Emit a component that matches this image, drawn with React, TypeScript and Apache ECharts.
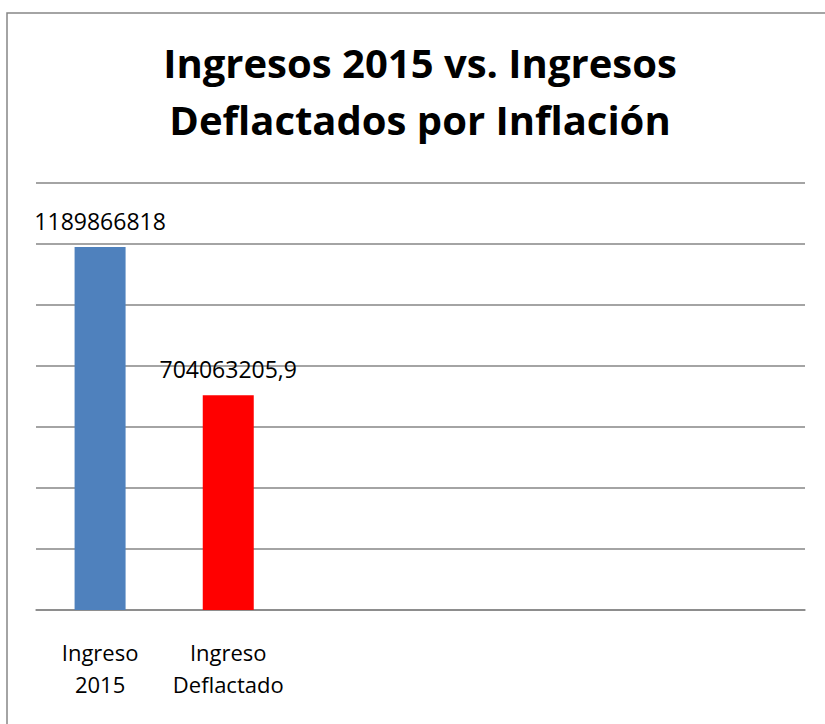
import React, { useEffect, useRef } from "react";
import * as echarts from "echarts";

const titleText = "Ingresos 2015 vs. Ingresos\nDeflactados por Inflación";
const categories = ["Ingreso\n2015", "Ingreso\nDeflactado", "", "", "", ""];
const values = [1189866818, 704063205.9];
const barColors = ["#4F81BD", "#FF0000"];
const yMin = 0;
const yMax = 1400000000;
const yInterval = 200000000;

export default function App() {
  const ref = useRef<HTMLDivElement>(null);
  useEffect(() => {
    if (!ref.current) return;
    const chart = echarts.init(ref.current, undefined, { renderer: "svg" });
    chart.setOption({
      animation: false,
      backgroundColor: "#ffffff",
      graphic: [
        {
          type: "rect",
          shape: { x: 7, y: 13, width: 900, height: 800 },
          style: { fill: "none", stroke: "#868686", lineWidth: 1.5 },
          silent: true,
        },
        {
          type: "text",
          x: 420,
          y: 91,
          style: {
            text: titleText,
            textAlign: "center",
            textVerticalAlign: "middle",
            fontFamily: "Open Sans",
            fontWeight: "bold",
            fontSize: 40,
            lineHeight: 57,
            fill: "#000000",
          },
        },
      ],
      grid: { left: 36, right: 20, top: 183, bottom: 114, containLabel: false },
      xAxis: {
        type: "category",
        data: categories,
        axisLine: { show: true, lineStyle: { color: "#868686", width: 1.5 } },
        axisTick: { show: false },
        axisLabel: {
          interval: 0,
          color: "#000000",
          fontFamily: "Open Sans",
          fontSize: 22,
          lineHeight: 32,
          margin: 26,
        },
      },
      yAxis: {
        type: "value",
        min: yMin,
        max: yMax,
        interval: yInterval,
        axisLine: { show: false },
        axisTick: { show: false },
        axisLabel: { show: false },
        splitLine: { show: true, lineStyle: { color: "#868686", width: 1.5 } },
      },
      series: [
        {
          type: "bar",
          barWidth: 51,
          data: values.map((v, i) => ({ value: v, itemStyle: { color: barColors[i] } })),
          label: {
            show: true,
            position: "top",
            distance: 14,
            color: "#000000",
            fontFamily: "Open Sans",
            fontSize: 23,
            lineHeight: 24,
            formatter: (p: any) => String(p.value).replace(".", ","),
          },
        },
      ],
    });
    return () => chart.dispose();
  }, []);
  return (
    <div
      ref={ref}
      style={{ position: "fixed", left: 0, top: 0, width: 825, height: 724 }}
    />
  );
}
